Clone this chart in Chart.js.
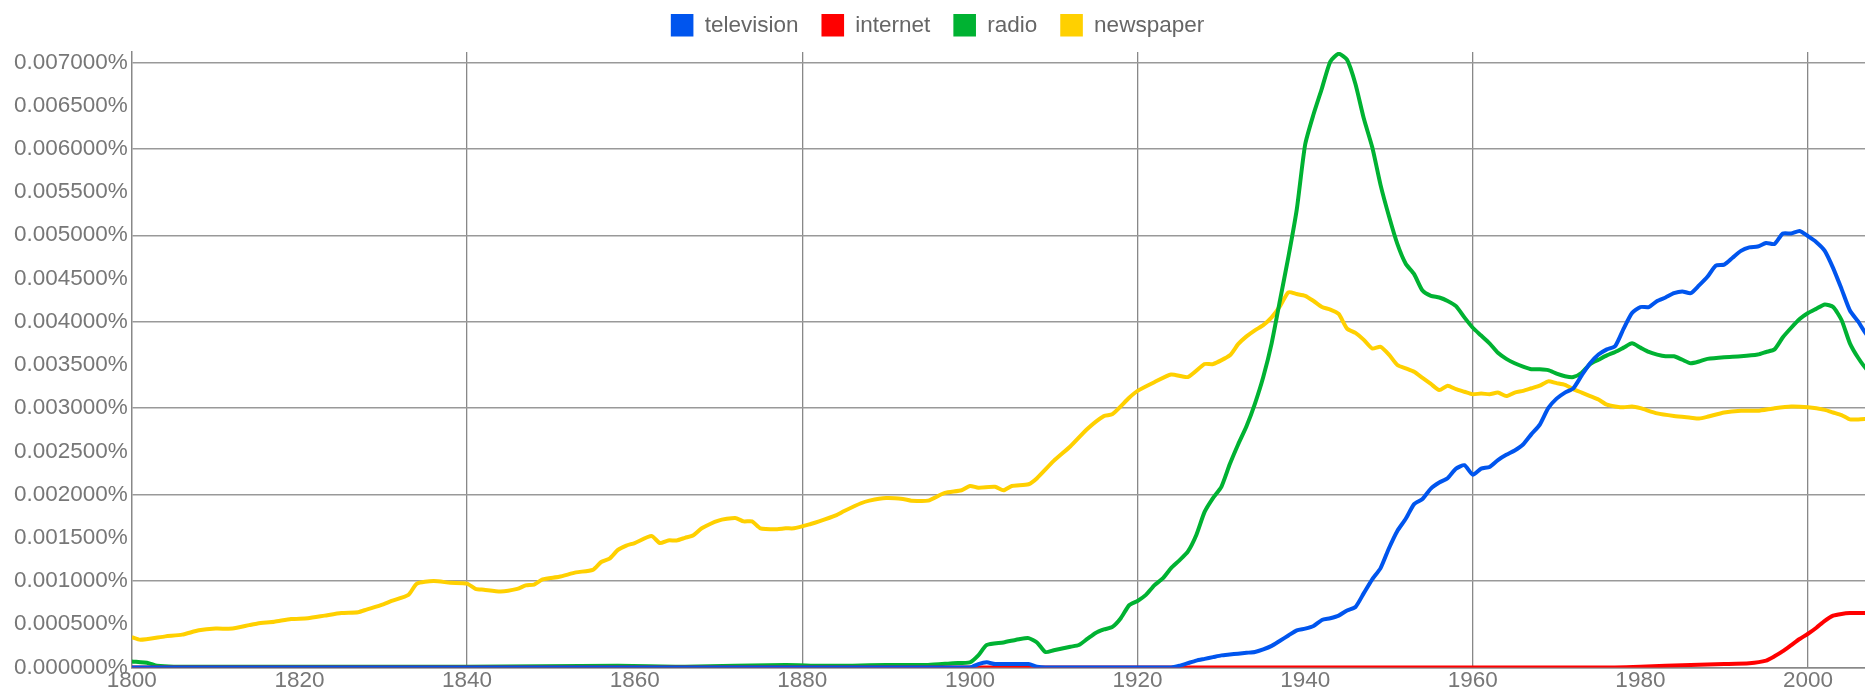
<!DOCTYPE html>
<html>
<head>
<meta charset="utf-8">
<script src="https://cdn.jsdelivr.net/npm/chart.js@4/dist/chart.umd.min.js"></script>
<style>
    html, body { margin: 0; padding: 0; background: #fff; }
    #wrap { width: 1865px; height: 690px; position: relative; }
</style>
</head>
<body>
<div id="wrap"><canvas id="ngramChart"></canvas></div>
<script>
// values are in percent
const tvYears = [1800, 1900, 1901, 1902, 1903, 1907, 1908, 1909, 1924, 1925, 1926, 1927, 1928, 1929, 1930, 1931, 1932, 1933, 1934, 1935, 1936, 1937, 1938, 1939, 1940, 1941, 1942, 1943, 1944, 1945, 1946, 1947, 1948, 1949, 1950, 1951, 1952, 1953, 1954, 1955, 1956, 1957, 1958, 1959, 1960, 1961, 1962, 1963, 1964, 1965, 1966, 1967, 1968, 1969, 1970, 1971, 1972, 1973, 1974, 1975, 1976, 1977, 1978, 1979, 1980, 1981, 1982, 1983, 1984, 1985, 1986, 1987, 1988, 1989, 1990, 1991, 1992, 1993, 1994, 1995, 1996, 1997, 1998, 1999, 2000, 2001, 2002, 2003, 2004, 2005, 2006, 2007, 2008];
const tvValues = [0, 0, 0.00004, 0.00006, 0.00004, 0.00004, 0.00001, 0, 0, 0.00002, 0.00005, 0.00008, 0.0001, 0.00012, 0.00014, 0.00015, 0.00016, 0.00017, 0.00018, 0.00021, 0.00025, 0.00031, 0.00037, 0.00043, 0.00045, 0.00048, 0.00055, 0.00057, 0.0006, 0.00066, 0.0007, 0.00086, 0.00102, 0.00115, 0.00138, 0.00158, 0.00172, 0.00189, 0.00195, 0.00207, 0.00214, 0.00219, 0.0023, 0.00234, 0.00223, 0.0023, 0.00232, 0.0024, 0.00246, 0.00251, 0.00258, 0.0027, 0.00281, 0.003, 0.00311, 0.00318, 0.00323, 0.00338, 0.00352, 0.00362, 0.00368, 0.00372, 0.00392, 0.0041, 0.00417, 0.00417, 0.00424, 0.00428, 0.00433, 0.00435, 0.00433, 0.00442, 0.00452, 0.00465, 0.00466, 0.00474, 0.00482, 0.00486, 0.00487, 0.00491, 0.0049, 0.00502, 0.00502, 0.00505, 0.00499, 0.00492, 0.00482, 0.00462, 0.00438, 0.00413, 0.004, 0.00385, 0.00378];

const netYears = [1800, 1975, 1980, 1986, 1990, 1993, 1995, 1996, 1997, 1998, 1999, 2000, 2001, 2002, 2003, 2004, 2005, 2006, 2008];
const netValues = [0, 0, 0.00001, 0.00003, 0.00004, 0.00005, 0.00008, 0.00013, 0.00019, 0.00026, 0.00033, 0.00039, 0.00046, 0.00054, 0.0006, 0.00062, 0.00063, 0.00063, 0.00063];

const radioYears = [1800, 1802, 1803, 1805, 1840, 1858, 1866, 1878, 1882, 1886, 1890, 1895, 1898, 1900, 1901, 1902, 1904, 1906, 1907, 1908, 1909, 1910, 1912, 1913, 1914, 1915, 1916, 1917, 1918, 1919, 1920, 1921, 1922, 1923, 1924, 1925, 1926, 1927, 1928, 1929, 1930, 1931, 1932, 1933, 1934, 1935, 1936, 1937, 1938, 1939, 1940, 1941, 1942, 1943, 1944, 1945, 1946, 1947, 1948, 1949, 1950, 1951, 1952, 1953, 1954, 1955, 1956, 1957, 1958, 1959, 1960, 1961, 1962, 1963, 1964, 1965, 1966, 1967, 1968, 1969, 1970, 1971, 1972, 1973, 1974, 1975, 1976, 1977, 1978, 1979, 1980, 1981, 1982, 1983, 1984, 1985, 1986, 1987, 1988, 1990, 1992, 1994, 1995, 1996, 1997, 1998, 1999, 2000, 2001, 2002, 2003, 2004, 2005, 2006, 2007, 2008];
const radioValues = [0.00007, 0.00005, 0.00002, 0.00001, 0.00001, 0.00002, 0.00001, 0.00003, 0.00002, 0.00002, 0.00003, 0.00003, 0.00005, 0.00006, 0.00014, 0.00026, 0.00029, 0.00033, 0.00034, 0.00029, 0.00018, 0.0002, 0.00024, 0.00026, 0.00033, 0.0004, 0.00044, 0.00047, 0.00057, 0.00072, 0.00077, 0.00084, 0.00095, 0.00103, 0.00115, 0.00124, 0.00134, 0.00153, 0.0018, 0.00196, 0.00209, 0.00235, 0.00258, 0.00279, 0.00305, 0.00336, 0.00375, 0.00425, 0.00475, 0.0053, 0.00605, 0.0064, 0.0067, 0.00701, 0.0071, 0.00703, 0.00675, 0.00635, 0.00602, 0.00558, 0.00522, 0.0049, 0.00467, 0.00455, 0.00436, 0.0043, 0.00428, 0.00424, 0.00418, 0.00405, 0.00393, 0.00384, 0.00375, 0.00364, 0.00357, 0.00352, 0.00348, 0.00345, 0.00345, 0.00344, 0.0034, 0.00337, 0.00336, 0.00341, 0.00351, 0.00356, 0.00361, 0.00365, 0.0037, 0.00375, 0.0037, 0.00365, 0.00362, 0.0036, 0.0036, 0.00356, 0.00352, 0.00354, 0.00357, 0.00359, 0.0036, 0.00362, 0.00365, 0.00368, 0.00382, 0.00393, 0.00403, 0.0041, 0.00415, 0.0042, 0.00417, 0.00402, 0.00375, 0.00358, 0.00345, 0.00338];

const paperYears = [1800, 1801, 1804, 1806, 1808, 1810, 1812, 1814, 1815, 1817, 1819, 1821, 1823, 1825, 1827, 1828, 1830, 1831, 1833, 1834, 1836, 1838, 1840, 1841, 1842, 1844, 1846, 1847, 1848, 1849, 1851, 1853, 1855, 1856, 1857, 1858, 1859, 1860, 1862, 1863, 1864, 1865, 1866, 1867, 1868, 1870, 1872, 1873, 1874, 1875, 1877, 1878, 1879, 1881, 1882, 1884, 1885, 1887, 1888, 1890, 1892, 1893, 1895, 1897, 1899, 1900, 1901, 1903, 1904, 1905, 1907, 1908, 1910, 1912, 1914, 1916, 1917, 1919, 1920, 1922, 1924, 1926, 1928, 1929, 1931, 1932, 1933, 1934, 1935, 1936, 1937, 1938, 1939, 1940, 1941, 1942, 1943, 1944, 1945, 1946, 1947, 1948, 1949, 1950, 1951, 1952, 1953, 1954, 1955, 1956, 1957, 1958, 1959, 1960, 1961, 1962, 1963, 1964, 1965, 1966, 1967, 1968, 1969, 1970, 1971, 1972, 1973, 1974, 1975, 1976, 1977, 1978, 1979, 1980, 1982, 1984, 1986, 1987, 1988, 1990, 1992, 1994, 1996, 1998, 2000, 2002, 2003, 2004, 2005, 2006, 2008];
const paperValues = [0.00035, 0.00032, 0.00036, 0.00038, 0.00043, 0.00045, 0.00045, 0.00049, 0.00051, 0.00053, 0.00056, 0.00057, 0.0006, 0.00063, 0.00064, 0.00067, 0.00073, 0.00077, 0.00084, 0.00097, 0.001, 0.00098, 0.00097, 0.00091, 0.0009, 0.00088, 0.00091, 0.00095, 0.00096, 0.00102, 0.00105, 0.0011, 0.00113, 0.00122, 0.00126, 0.00136, 0.00141, 0.00144, 0.00152, 0.00144, 0.00147, 0.00147, 0.0015, 0.00153, 0.00161, 0.0017, 0.00173, 0.00169, 0.00169, 0.00161, 0.0016, 0.00161, 0.00161, 0.00166, 0.00169, 0.00176, 0.00181, 0.0019, 0.00193, 0.00196, 0.00195, 0.00193, 0.00193, 0.00202, 0.00205, 0.0021, 0.00208, 0.00209, 0.00205, 0.0021, 0.00212, 0.00219, 0.00239, 0.00256, 0.00276, 0.00291, 0.00293, 0.00312, 0.0032, 0.0033, 0.00339, 0.00336, 0.00351, 0.00351, 0.00361, 0.00374, 0.00383, 0.0039, 0.00396, 0.00405, 0.00418, 0.00434, 0.00432, 0.0043, 0.00424, 0.00417, 0.00414, 0.00409, 0.00392, 0.00387, 0.00379, 0.00369, 0.00371, 0.00362, 0.0035, 0.00346, 0.00342, 0.00335, 0.00328, 0.00321, 0.00326, 0.00322, 0.00319, 0.00316, 0.00317, 0.00316, 0.00318, 0.00314, 0.00318, 0.0032, 0.00323, 0.00326, 0.00331, 0.00329, 0.00327, 0.00322, 0.00318, 0.00314, 0.0031, 0.00304, 0.00302, 0.00301, 0.00302, 0.003, 0.00294, 0.00291, 0.00289, 0.00288, 0.0029, 0.00295, 0.00297, 0.00297, 0.003, 0.00302, 0.00301, 0.00298, 0.00295, 0.00292, 0.00287, 0.00287, 0.00288];

const seriesNames = ['television', 'internet', 'radio', 'newspaper'];
const seriesColors = ['#0055ee', '#ff0000', '#00b232', '#ffd000'];

const yTickStep = 0.0005;
const xTickStep = 20;

function toPoints(years, values) {
    return years.map((year, i) => ({ x: year, y: values[i] }));
}

const allSeries = [
    toPoints(tvYears, tvValues),
    toPoints(netYears, netValues),
    toPoints(radioYears, radioValues),
    toPoints(paperYears, paperValues)
];

const fontFamily = 'Liberation Sans, Arial, sans-serif';
const gridGrey = '#999999';
const clear = 'rgba(0,0,0,0)';

const ctx = document.getElementById('ngramChart').getContext('2d');
new Chart(ctx, {
    type: 'line',
    data: {
        datasets: allSeries.map((points, i) => ({
            label: seriesNames[i],
            data: points,
            borderColor: seriesColors[i],
            backgroundColor: seriesColors[i],
            borderWidth: 4,
            pointRadius: 0,
            tension: 0.2,
            fill: false
        }))
    },
    options: {
        responsive: true,
        maintainAspectRatio: false,
        animation: false,
        layout: {
            padding: { top: -9, left: 10, right: 0, bottom: -4 }
        },
        plugins: {
            legend: {
                position: 'top',
                labels: {
                    boxWidth: 22.6,
                    boxHeight: 22.6,
                    padding: 23,
                    color: '#666',
                    font: { family: fontFamily, size: 22.5 },
                    generateLabels: chart => {
                        const items = Chart.defaults.plugins.legend.labels.generateLabels(chart);
                        items.forEach(item => { item.lineWidth = 0; });
                        return items;
                    }
                }
            },
            // empty spacer between the legend and the plot
            title: {
                display: true,
                text: '',
                weight: 500,
                padding: 0,
                font: { size: 5.4, lineHeight: 1 }
            },
            tooltip: { enabled: false }
        },
        scales: {
            x: {
                type: 'linear',
                min: 1800,
                max: 2006.8,
                border: { color: '#888', width: 1.5 },
                grid: {
                    drawTicks: false,
                    lineWidth: 1.3,
                    color: c => (c.tick && c.tick.value % 40 === 0 && c.tick.value !== 1800) ? '#888' : clear
                },
                ticks: {
                    stepSize: xTickStep,
                    includeBounds: false,
                    maxRotation: 0,
                    autoSkip: false,
                    padding: 2,
                    color: '#777',
                    font: { family: fontFamily, size: 22.5, lineHeight: 1 },
                    callback: v => String(v)
                }
            },
            y: {
                min: 0,
                max: 0.00712,
                border: { color: '#888', width: 1.5 },
                grid: {
                    drawTicks: false,
                    lineWidth: 1.5,
                    color: c => {
                        const v = c.tick ? c.tick.value : 0;
                        return Math.abs(Math.round(v / 0.001) * 0.001 - v) < 1e-9 ? gridGrey : clear;
                    }
                },
                ticks: {
                    stepSize: yTickStep,
                    includeBounds: false,
                    padding: 4,
                    color: '#777',
                    font: { family: fontFamily, size: 22.5 },
                    callback: v => v.toFixed(6) + '%'
                }
            }
        }
    }
});
</script>
</body>
</html>
